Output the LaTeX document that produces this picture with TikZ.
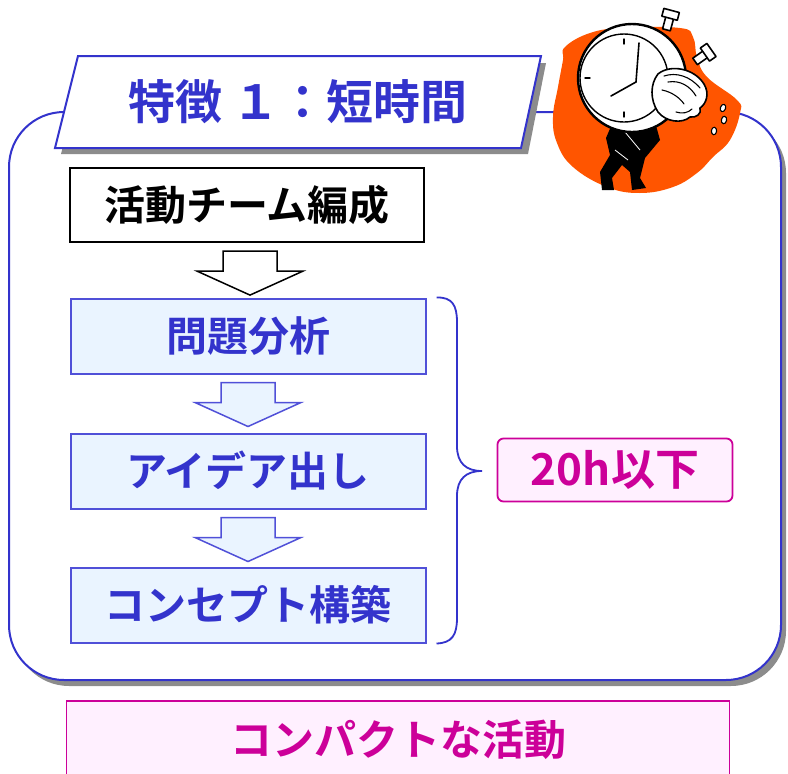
\documentclass[tikz,border=0pt]{standalone}
\usepackage{fontspec}
\setmainfont{Noto Sans CJK JP}[BoldFont={Noto Sans CJK JP Bold}]
\usetikzlibrary{calc}
\definecolor{tblue}{HTML}{3333CC}
\definecolor{bblue}{HTML}{5050D8}
\definecolor{lblue}{HTML}{EAF4FF}
\definecolor{mag}{HTML}{CC0099}
\definecolor{lpink}{HTML}{FFF0FF}
\definecolor{orng}{HTML}{FF5500}
\definecolor{shd}{HTML}{8C8C8C}
\tikzset{
  stepbox/.style={draw=bblue, line width=2pt, fill=lblue, minimum width=355pt, minimum height=75pt,
    inner sep=0pt, text=tblue, font=\fontsize{41}{43}\selectfont\bfseries},
  firstbox/.style={draw=black, line width=2.2pt, fill=white, minimum width=354pt, minimum height=74pt,
    inner sep=0pt, text=black, font=\fontsize{41}{43}\selectfont\bfseries},
  notebox/.style={draw=mag, line width=1.8pt, fill=lpink, text=mag, inner sep=0pt,
    font=\fontsize{41}{43}\selectfont\bfseries},
  pics/blockarrow/.style={code={
    \draw[line width=1.5pt, #1] (-27,0) -- (27,0) -- (27,20) -- (53,20) -- (0,44)
      -- (-53,20) -- (-27,20) -- cycle;}},
  outline/.style={draw=black, line width=1.6pt, line join=round, line cap=round}
}
\begin{document}
\begin{tikzpicture}[x=1pt, y=-1pt]
\useasboundingbox (0,0) rectangle (788,774);

% main frame with drop shadow
\fill[shd, rounded corners=55pt] (14,118) rectangle (786,686);
\draw[tblue, line width=2pt, fill=white, rounded corners=55pt] (9,112) rectangle (781,680);

% title banner
\fill[shd] (84,63) -- (546,63) -- (528,154) -- (61,154) -- cycle;
\draw[tblue, line width=2pt, fill=white] (78,56) -- (541,56) -- (521,148) -- (55,148) -- cycle;
\node[text=tblue, font=\fontsize{47}{49}\selectfont\bfseries] (title) at (298,102) {特徴 １：短時間};

% clip art: stopwatch carried on a man's back
\fill[orng] plot[smooth cycle, tension=0.7] coordinates {
  (565,47) (590,33) (623,28) (680,28) (693,37) (697,57) (707,77) (737,100)
  (740,113) (730,140) (713,157) (697,173) (673,187) (640,193) (607,187)
  (573,167) (557,143) (553,117) (558,87) (563,60)};
% body and legs
\fill[black] (612,124) -- (655,122) -- (660,140) -- (645,158) -- (640,178) -- (646,188)
  -- (632,190) -- (630,172) -- (622,165) -- (612,178) -- (614,190) -- (602,190)
  -- (600,172) -- (610,155) -- (606,138) -- cycle;
\draw[white, line width=0.8pt] (625,132) -- (640,150) (615,150) -- (628,160);
% knobs on the case
\draw[outline, fill=white, rotate around={-15:(668,24)}] (664,14) rectangle (672,30);
\draw[outline, fill=white, rotate around={-15:(668,24)}] (660,10) rectangle (676,18);
\draw[outline, fill=white, rotate around={-55:(700,58)}] (696,48) rectangle (704,64);
\draw[outline, fill=white, rotate around={-55:(700,58)}] (692,44) rectangle (708,52);
% watch case and face
\draw[outline, line width=2.4pt, fill=white] (632,78) circle[radius=54];
\draw[outline, line width=1.4pt] (624,78) circle[radius=44];
\foreach \a in {90,0,180,270} {
  \draw[outline, line width=1.4pt] ($(624,78)+(\a:-39)$) -- ($(624,78)+(\a:-34)$);
}
\draw[outline, line width=1.6pt] (636,82) -- (639,43);
\draw[outline, line width=1.6pt] (636,82) -- (611,96);
% head, bent forward under the watch
\draw[outline, fill=white] (658,74) .. controls (670,64) and (694,68) .. (704,84)
  .. controls (710,94) and (706,104) .. (700,108)
  .. controls (702,114) and (696,118) .. (690,117)
  .. controls (682,124) and (666,122) .. (658,112)
  .. controls (650,100) and (650,84) .. (658,74) -- cycle;
\draw[outline, line width=1.1pt] (664,76) .. controls (676,72) and (690,76) .. (700,88)
  (668,82) .. controls (680,80) and (690,86) .. (696,96)
  (662,90) .. controls (672,92) and (680,98) .. (684,104)
  (676,112) .. controls (682,114) and (688,113) .. (692,109);
% sweat drops
\foreach \p/\r in {{(723,108)}/-20, {(724,120)}/-10, {(714,131)}/-5} {
  \draw[outline, line width=1.1pt, fill=white] \p ellipse[x radius=2.6, y radius=3.8, rotate=\r];
}

% process steps
\node[firstbox] (team) at (247,205) {活動チーム編成};
\node[stepbox] (s1) at (248,336) {問題分析};
\node[stepbox] (s2) at (248,471) {アイデア出し};
\node[stepbox] (s3) at (248,605) {コンセプト構築};

% block arrows between the steps
\pic at ($(team.south)+(3,8)$) {blockarrow={fill=white, draw=black}};
\pic at ($(s1.south)+(0,8)$) {blockarrow={fill=lblue, draw=bblue}};
\pic at ($(s2.south)+(0,8)$) {blockarrow={fill=lblue, draw=bblue}};

% brace grouping the three steps
\coordinate (bt) at ($(s1.north east)+(10,0)$);
\coordinate (bb) at ($(s3.south east)+(10,0)$);
\coordinate (bm) at (482,471);
\draw[tblue, line width=1.8pt] (bt) .. controls (452,297) and (457,305) .. (457,322)
  -- (457,446) .. controls (457,463) and (466,471) .. (bm)
  .. controls (466,471) and (457,479) .. (457,496)
  -- (457,618) .. controls (457,635) and (452,643) .. (bb);

% time budget
\node[notebox, rounded corners=6pt, minimum width=235pt, minimum height=63pt,
  font=\fontsize{44}{46}\selectfont\bfseries] (budget) at (615,470) {20h以下};

% conclusion
\node[notebox, minimum width=663pt, minimum height=90pt, anchor=north] (concl) at (398,700) {};
\node[text=mag, font=\fontsize{42}{44}\selectfont\bfseries] (conclt) at (398,740) {コンパクトな活動};
\end{tikzpicture}
\end{document}
